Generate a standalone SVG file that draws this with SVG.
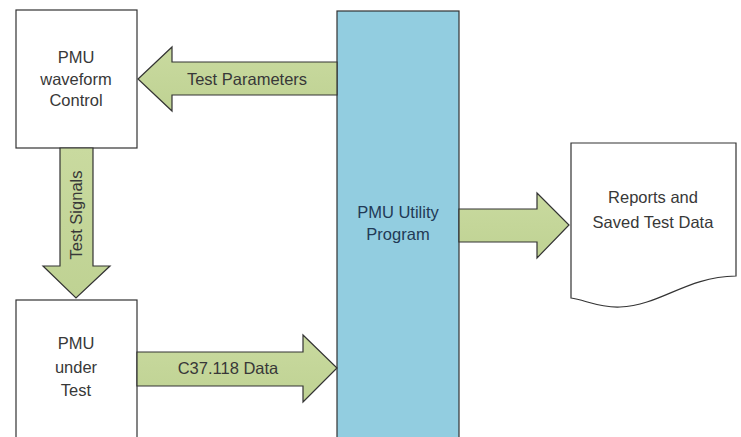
<svg xmlns="http://www.w3.org/2000/svg" width="741" height="437" viewBox="0 0 741 437">
<style>
.box{fill:#ffffff;stroke:#333333;stroke-width:1.2}
.arr{fill:url(#g);stroke:#333333;stroke-width:1.2;stroke-linejoin:miter}
.t{font-family:"Liberation Sans",Arial,sans-serif;font-size:16.5px;fill:#383838;text-anchor:middle}
.tb{font-family:"Liberation Sans",Arial,sans-serif;font-size:16.5px;fill:#223a56;text-anchor:middle}
</style>
<defs>
<linearGradient id="g" x1="0" y1="0" x2="0" y2="1">
<stop offset="0" stop-color="#c9da9f"/>
<stop offset="1" stop-color="#bfd293"/>
</linearGradient>
</defs>
<rect width="741" height="437" fill="#ffffff"/>
<g id="utility">
<rect x="337" y="11" width="122" height="440" fill="#92cde0" stroke="#333333" stroke-width="1.2"/>
<text class="tb" x="398" y="218">PMU Utility</text>
<text class="tb" x="398" y="240">Program</text>
</g>
<g id="waveform">
<rect class="box" x="16" y="10" width="121" height="138"/>
<text class="t" x="76" y="63">PMU</text>
<text class="t" x="76" y="85">waveform</text>
<text class="t" x="76" y="106">Control</text>
</g>
<g id="pmu">
<rect class="box" x="16" y="300" width="121" height="150"/>
<text class="t" x="76" y="349">PMU</text>
<text class="t" x="76" y="373">under</text>
<text class="t" x="76" y="396">Test</text>
</g>
<g id="reports">
<path class="box" d="M571,143 H736 V276 C685,277 662,305 620,307 C600,308 585,300 571,298 Z"/>
<text class="t" x="653" y="203">Reports and</text>
<text class="t" x="653" y="228">Saved Test Data</text>
</g>
<g id="connectors">
<path class="arr" d="M337,62 H172 V47 L138,79 L172,111 V95 H337 Z"/>
<text class="t" x="247" y="85">Test Parameters</text>
<path class="arr" d="M60,148 V266 H43 L76,298 L110,266 H93 V148 Z"/>
<text class="t" transform="translate(82,215) rotate(-90)">Test Signals</text>
<path class="arr" d="M137,352 H303 V335 L337,368 L303,402 V386 H137 Z"/>
<text class="t" x="228" y="374">C37.118 Data</text>
<path class="arr" d="M459,209 H537 V193 L569,225 L537,258 V242 H459 Z"/>
</g>
</svg>
